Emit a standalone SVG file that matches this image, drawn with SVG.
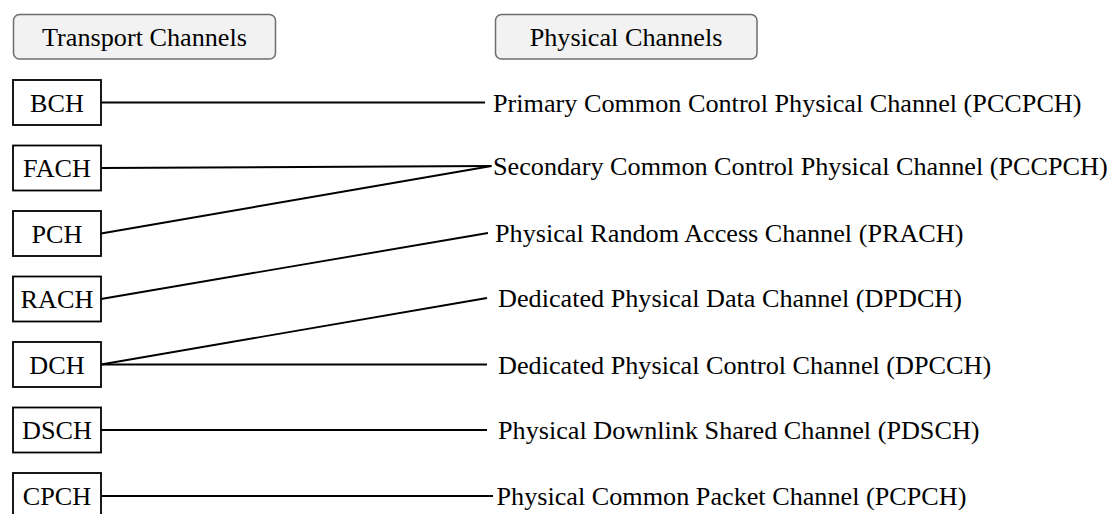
<svg xmlns="http://www.w3.org/2000/svg" width="1111" height="514" viewBox="0 0 1111 514">
<style>
text{font-family:"Liberation Serif","Times New Roman",serif;font-size:26.2px;fill:#000}
.hdr{fill:#f2f2f2;stroke:#6e6e6e;stroke-width:1.5}
.box{fill:#fff;stroke:#000;stroke-width:1.8}
.c{text-anchor:middle}
#connectors line{stroke:#000;stroke-width:1.9}
</style>
<rect width="1111" height="514" fill="#fff"/>
<g id="hdr-transport"><rect class="hdr" x="13.5" y="14.5" width="262" height="44.5" rx="6"/><text class="c" x="144.5" y="46">Transport Channels</text></g>
<g id="hdr-physical"><rect class="hdr" x="495.5" y="14.5" width="261.5" height="44.5" rx="6"/><text class="c" x="626" y="46">Physical Channels</text></g>
<g id="connectors">
<line x1="101" y1="102.5" x2="485" y2="102.5"/>
<line x1="101" y1="168" x2="491.5" y2="166"/>
<line x1="101" y1="233.5" x2="491.5" y2="166"/>
<line x1="101" y1="299" x2="488" y2="233"/>
<line x1="101" y1="364.5" x2="487" y2="298"/>
<line x1="101" y1="364.5" x2="487" y2="364.5"/>
<line x1="101" y1="430" x2="487" y2="430"/>
<line x1="101" y1="496" x2="493" y2="496"/>
</g>
<g id="bch"><rect class="box" x="13" y="80" width="88" height="45"/><text class="c" x="57" y="111.5">BCH</text></g>
<g id="fach"><rect class="box" x="13" y="145.5" width="88" height="45"/><text class="c" x="57" y="177">FACH</text></g>
<g id="pch"><rect class="box" x="13" y="211" width="88" height="45"/><text class="c" x="57" y="242.5">PCH</text></g>
<g id="rach"><rect class="box" x="13" y="276.5" width="88" height="45"/><text class="c" x="57" y="308">RACH</text></g>
<g id="dch"><rect class="box" x="13" y="342" width="88" height="45"/><text class="c" x="57" y="373.5">DCH</text></g>
<g id="dsch"><rect class="box" x="13" y="407.5" width="88" height="45"/><text class="c" x="57" y="439">DSCH</text></g>
<g id="cpch"><rect class="box" x="13" y="473" width="88" height="45"/><text class="c" x="57" y="504.5">CPCH</text></g>
<g id="pccpch"><text x="493" y="111.5">Primary Common Control Physical Channel (PCCPCH)</text></g>
<g id="sccpch"><text x="493" y="175">Secondary Common Control Physical Channel (PCCPCH)</text></g>
<g id="prach"><text x="495" y="242">Physical Random Access Channel (PRACH)</text></g>
<g id="dpdch"><text x="498" y="307">Dedicated Physical Data Channel (DPDCH)</text></g>
<g id="dpcch"><text x="498" y="373.5">Dedicated Physical Control Channel (DPCCH)</text></g>
<g id="pdsch"><text x="498" y="439">Physical Downlink Shared Channel (PDSCH)</text></g>
<g id="pcpch"><text x="496.5" y="505">Physical Common Packet Channel (PCPCH)</text></g>
</svg>
